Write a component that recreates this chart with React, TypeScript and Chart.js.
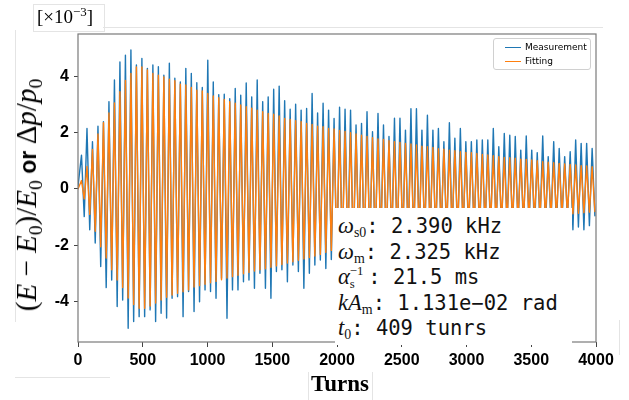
import React, { useEffect, useRef } from "react";
import { Chart, registerables } from "chart.js";
Chart.register(...registerables);

// ---- data (units of 1e-3) ----
const X_TICKS = [0, 500, 1000, 1500, 2000, 2500, 3000, 3500, 4000];
const Y_TICKS = [-4, -2, 0, 2, 4];
const X_MIN = 0;
const X_MAX = 4000;
const Y_MIN = -5.43;
const Y_MAX = 5.5;
// timing of the oscillation
const FIRST_PEAK_TURN = 27;
const PERIOD_TURNS = 42.4;

// Fitting: upper peak and lower trough of each oscillation cycle
const fitPeaks = [
  0.3, 0.8, 1.4, 1.95, 2.35, 2.7, 3.05, 3.45, 3.85, 4.1, 4.33, 4.33, 4.22,
  4.1, 4.04, 3.98, 3.9, 3.84, 3.72, 3.69, 3.6, 3.51, 3.48, 3.39, 3.3, 3.24, 3.18, 3.1, 3.04,
  2.98, 2.92, 2.87, 2.8, 2.74, 2.68, 2.65, 2.59, 2.5, 2.47, 2.42, 2.39, 2.33, 2.29, 2.23,
  2.21, 2.15, 2.13, 2.08, 2.04, 2.0,
  1.95, 1.91, 1.86, 1.82, 1.78, 1.76, 1.71, 1.68, 1.65, 1.62, 1.6, 1.56, 1.52, 1.5, 1.47,
  1.43, 1.41, 1.38, 1.36, 1.32, 1.3, 1.29, 1.26, 1.23, 1.21, 1.18, 1.15, 1.12, 1.11, 1.09,
  1.06, 1.05, 1.03, 1.0, 0.97, 0.95, 0.93, 0.91, 0.89, 0.87, 0.85, 0.83, 0.82, 0.79,
];
const fitTroughs = [
  -0.35, -0.9, -1.5, -2.05, -2.45, -2.87, -3.23, -3.5, -3.87, -4.1, -4.23, -4.23, -4.15,
  -4.05, -3.94, -3.84, -3.76, -3.7, -3.65, -3.58, -3.48, -3.43, -3.38, -3.33, -3.28, -3.22,
  -3.16, -3.11, -3.06, -3.01, -2.96, -2.91, -2.87, -2.83, -2.78, -2.73, -2.68, -2.63, -2.58,
  -2.53, -2.48, -2.43, -2.38, -2.32, -2.25, -2.18, -2.14,
  -2.12, -2.08, -2.04, -2.0, -1.96, -1.91, -1.87, -1.83, -1.8, -1.76, -1.73, -1.7, -1.67,
  -1.64, -1.6, -1.56, -1.54, -1.51, -1.47, -1.45, -1.42, -1.4, -1.36, -1.34, -1.32, -1.29,
  -1.26, -1.24, -1.21, -1.18, -1.16, -1.14, -1.12, -1.09, -1.06, -1.04, -1.02, -0.99, -0.97,
  -0.95, -0.93, -0.9, -0.88, -0.86, -0.84, -0.82, -0.8,
];
// Measurement: upper and lower extreme of each cycle
const measPeaks = [
  1.2, 2.15, 1.68, 2.23, 2.39, 3.1, 3.87, 4.51, 4.75, 4.93, 4.4, 4.63, 4.28, 4.4, 4.34,
  4.04, 4.46, 3.93, 3.8, 4.28, 4.1, 3.77, 3.6, 4.57, 3.8, 3.35, 3.36, 3.2, 3.57, 3.33, 3.76,
  3.27, 3.87, 3.1, 3.27, 3.54, 3.65, 3.13, 2.83, 3.01, 2.8, 2.86, 3.39, 2.7, 3.04, 2.8, 2.5,
  2.9, 2.83, 2.8,
  2.27, 2.33, 2.74, 2.03, 2.68, 2.27, 1.86, 2.51, 2.51, 2.09, 2.85, 2.85, 2.09, 2.62, 2.09,
  2.15, 1.68, 2.35, 1.8, 2.15, 1.68, 1.68, 1.74, 1.74, 1.74, 2.15, 1.5, 1.97, 1.91, 1.86,
  1.38, 1.88, 1.38, 1.29, 1.88, 1.15, 1.68, 1.44, 1.15, 1.32, 1.74, 1.62, 1.62, 1.44,
];
const measTroughs = [
  -0.98, -1.45, -1.92, -2.75, -3.5, -3.23, -4.17, -3.94, -4.94, -4.7, -4.53, -4.53, -4.29,
  -4.7, -4.41, -4.58, -3.88, -3.82, -4.53, -3.64, -4.35, -4.0, -3.58, -3.64, -3.88, -3.17,
  -4.59, -3.58, -3.58, -3.29, -3.23, -3.52, -2.99, -3.52, -3.88, -2.93, -2.87, -3.29, -2.7,
  -2.93, -3.52, -2.99, -2.7, -2.52, -2.82, -2.5, -2.82,
  -2.6, -2.3, -2.5, -2.2, -2.45, -2.1, -2.3, -2.0, -2.25, -1.95, -2.2, -1.9, -2.0, -2.1,
  -1.85, -1.95, -1.8, -2.0, -1.75, -1.85, -1.7, -1.9, -1.65, -1.75, -1.6, -1.8, -1.55, -1.7,
  -1.5, -1.6, -1.45, -1.65, -1.4, -1.5, -1.35, -1.55, -1.3, -1.4, -1.25, -1.45, -1.2, -1.1,
  -1.45, -1.35, -1.45, -1.3, -0.95,
];

const BLUE = "#1f77b4";
const ORANGE = "#ff7f0e";

function cycles(start: number, peaks: number[], troughs: number[]) {
  const pts: { x: number; y: number }[] = [{ x: 0, y: start }];
  const n = Math.min(peaks.length, troughs.length);
  for (let k = 0; k < n; k++) {
    pts.push({ x: FIRST_PEAK_TURN + k * PERIOD_TURNS, y: peaks[k] });
    pts.push({ x: FIRST_PEAK_TURN + (k + 0.5) * PERIOD_TURNS, y: troughs[k] });
  }
  return pts;
}

const framePlugin = {
  id: "frame",
  afterDatasetsDraw(chart: any) {
    const { ctx, chartArea } = chart;
    ctx.save();
    ctx.strokeStyle = "#7a7a7a";
    ctx.lineWidth = 1.2;
    ctx.strokeRect(chartArea.left, chartArea.top, chartArea.right - chartArea.left, chartArea.bottom - chartArea.top);
    ctx.restore();
  },
};

const faint = "#e4e4e4";
const tickFont = { family: "Liberation Sans, Arial, sans-serif", weight: "bold", size: 16 };

export default function App() {
  const ref = useRef<HTMLCanvasElement | null>(null);
  useEffect(() => {
    if (!ref.current) return;
    const chart = new Chart(ref.current, {
      type: "line",
      data: {
        datasets: [
          {
            label: "Fitting",
            data: cycles(0, fitPeaks, fitTroughs),
            borderColor: ORANGE,
            borderWidth: 1.4,
            pointRadius: 0,
            tension: 0,
            borderJoinStyle: "round",
            borderCapStyle: "round",
          },
          {
            label: "Measurement",
            data: cycles(0.1, measPeaks, measTroughs),
            borderColor: BLUE,
            borderWidth: 1.4,
            pointRadius: 0,
            tension: 0,
            borderJoinStyle: "round",
            borderCapStyle: "round",
          },
        ],
      },
      options: {
        responsive: false,
        animation: false,
        devicePixelRatio: 1,
        layout: { padding: { left: 0, right: 33, top: 34, bottom: 0 } },
        plugins: { legend: { display: false }, tooltip: { enabled: false } },
        scales: {
          x: {
            type: "linear",
            min: X_MIN,
            max: X_MAX,
            afterBuildTicks: (s: any) => {
              s.ticks = X_TICKS.map((v) => ({ value: v }));
            },
            afterFit: (s: any) => {
              s.height = 58;
            },
            border: { display: false },
            grid: { drawOnChartArea: false, drawTicks: true, tickLength: 5, color: "#444", tickWidth: 1 },
            ticks: {
              maxRotation: 0,
              padding: 4,
              color: "#000",
              font: tickFont,
              callback: (v: any) => String(v),
            },
          },
          y: {
            type: "linear",
            min: Y_MIN,
            max: Y_MAX,
            afterBuildTicks: (s: any) => {
              s.ticks = Y_TICKS.map((v) => ({ value: v }));
            },
            afterFit: (s: any) => {
              s.width = 78;
            },
            border: { display: false },
            grid: { drawOnChartArea: false, drawTicks: true, tickLength: 4, color: "#444", tickWidth: 1 },
            ticks: {
              padding: 5,
              color: "#000",
              font: tickFont,
              callback: (v: any) => String(v),
            },
          },
        },
      },
      plugins: [framePlugin],
    } as any);
    return () => chart.destroy();
  }, []);

  const serif = "'Liberation Serif', 'Times New Roman', serif";
  const mono = "'DejaVu Sans Mono', monospace";
  const sub = { fontSize: "0.68em", verticalAlign: "-0.3em", lineHeight: 0, fontStyle: "normal" } as React.CSSProperties;
  const mathI = { fontFamily: serif, fontStyle: "italic", fontSize: "1.1em" } as React.CSSProperties;
  const lineStyle = (i: number): React.CSSProperties => ({
    position: "absolute",
    left: 3,
    top: 5 + i * 25.5,
    height: 25.5,
    lineHeight: "25.5px",
    whiteSpace: "nowrap",
  });

  return (
    <div style={{ position: "absolute", left: 0, top: 0, width: 629, height: 400, background: "#fff", overflow: "hidden" }}>
      {/* faint frames of the pasted figure */}
      <div style={{ position: "absolute", left: 33, top: 4, width: 70, height: 26, border: `1px solid ${faint}` }} />
      <div style={{ position: "absolute", left: 103, top: 27, width: 500, height: 0, borderTop: `1px solid ${faint}` }} />
      <div style={{ position: "absolute", left: 15, top: 30, width: 0, height: 292, borderLeft: `1px solid ${faint}` }} />
      <div style={{ position: "absolute", left: 15, top: 377, width: 95, height: 0, borderTop: `1px solid ${faint}` }} />
      <div style={{ position: "absolute", left: 308, top: 372, width: 63, height: 28, borderLeft: `1px solid ${faint}`, borderRight: `1px solid ${faint}` }} />
      <div style={{ position: "absolute", left: 619, top: 320, width: 0, height: 35, borderLeft: `1px solid ${faint}` }} />

      <canvas ref={ref} width={629} height={400} style={{ position: "absolute", left: 0, top: 0 }} />

      {/* exponent label */}
      <div style={{ position: "absolute", left: 37, top: 6, fontFamily: serif, fontSize: 19, whiteSpace: "nowrap", lineHeight: "22px" }}>
        [×10<sup style={{ fontSize: "0.68em", verticalAlign: "0.55em", lineHeight: 0 }}>−3</sup>]
      </div>

      {/* y-axis label */}
      <div
        style={{
          position: "absolute",
          left: 27,
          top: 195,
          transform: "translate(-50%, -50%) rotate(-90deg)",
          whiteSpace: "nowrap",
          fontFamily: serif,
          fontSize: 29,
          lineHeight: "32px",
        }}
      >
        (<i>E</i> − <i>E</i>
        <span style={sub}>0</span>)/<i>E</i>
        <span style={sub}>0</span>
        <span style={{ fontFamily: "'Liberation Sans', Arial, sans-serif", fontWeight: "bold", fontSize: 23 }}> or </span>
        Δ<i>p</i>/<i>p</i>
        <span style={sub}>0</span>
      </div>

      {/* x-axis label */}
      <div style={{ position: "absolute", left: 340, top: 384, transform: "translate(-50%, -50%)", fontFamily: serif, fontWeight: "bold", fontSize: 23, whiteSpace: "nowrap" }}>
        Turns
      </div>

      {/* legend */}
      <div style={{ position: "absolute", left: 493, top: 38, width: 96, height: 30, border: "1px solid #d0d0d0", borderRadius: 3, background: "rgba(255,255,255,0.85)", fontFamily: "'DejaVu Sans', sans-serif", fontSize: 9 }}>
        <div style={{ position: "absolute", left: 11, top: 8, width: 16, height: 0, borderTop: `1.5px solid ${BLUE}` }} />
        <div style={{ position: "absolute", left: 31, top: 2, lineHeight: "12px", whiteSpace: "nowrap" }}>Measurement</div>
        <div style={{ position: "absolute", left: 11, top: 22, width: 16, height: 0, borderTop: `1.5px solid ${ORANGE}` }} />
        <div style={{ position: "absolute", left: 31, top: 16, lineHeight: "12px", whiteSpace: "nowrap" }}>Fitting</div>
      </div>

      {/* parameter box */}
      <div style={{ position: "absolute", left: 335, top: 208, width: 237, height: 137, background: "#fff", fontFamily: mono, fontSize: 20.5, color: "#111" }}>
        <div style={lineStyle(0)}>
          <span style={mathI}>ω</span>
          <span style={{ ...sub, fontFamily: serif }}>s0</span>: 2.390 kHz
        </div>
        <div style={lineStyle(1)}>
          <span style={mathI}>ω</span>
          <span style={{ ...sub, fontFamily: serif }}>m</span>: 2.325 kHz
        </div>
        <div style={lineStyle(2)}>
          <span style={mathI}>α</span>
          <span style={{ position: "relative", display: "inline-block", width: "0.9em", height: 0, verticalAlign: "baseline", fontFamily: serif }}>
            <span style={{ position: "absolute", left: 0, top: -19, fontSize: "0.62em", lineHeight: "13px", whiteSpace: "nowrap" }}>−1</span>
            <span style={{ position: "absolute", left: 0, top: -6, fontSize: "0.62em", lineHeight: "13px" }}>s</span>
          </span>
          : 21.5 ms
        </div>
        <div style={lineStyle(3)}>
          <span style={mathI}>kA</span>
          <span style={{ ...sub, fontFamily: serif }}>m</span>: 1.131e−02 rad
        </div>
        <div style={lineStyle(4)}>
          <span style={mathI}>t</span>
          <span style={{ ...sub, fontFamily: serif }}>0</span>: 409 tunrs
        </div>
      </div>
    </div>
  );
}
